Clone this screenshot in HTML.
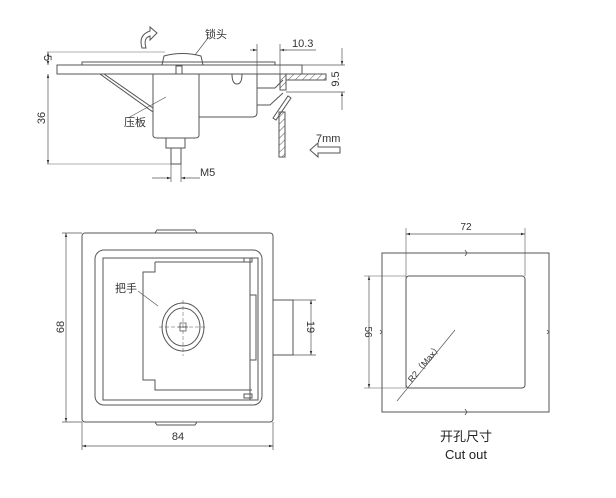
<!DOCTYPE html>
<html><head><meta charset="utf-8"><style>
html,body{margin:0;padding:0;background:#fff;}
svg{display:block}
text{font-family:"Liberation Sans","Noto Sans CJK SC",sans-serif;fill:#333}
</style></head><body>
<svg width="616" height="498" viewBox="0 0 616 498" xmlns="http://www.w3.org/2000/svg">
<defs>
<pattern id="h" width="5" height="5" patternUnits="userSpaceOnUse" patternTransform="rotate(45)"><line x1="0" y1="0" x2="0" y2="5" stroke="#555" stroke-width="1"/></pattern>
<marker id="a" viewBox="0 0 10 10" refX="10" refY="5" markerWidth="6" markerHeight="6" orient="auto-start-reverse"><path d="M0,2 L10,5 L0,8z" fill="#333"/></marker>
</defs>
<g fill="none" stroke="#555" stroke-width="1">
<line x1="47" y1="52" x2="165" y2="52" stroke="#999" stroke-width="0.7"/>
<line x1="47" y1="164" x2="172" y2="164" stroke="#999" stroke-width="0.7"/>
<line x1="48" y1="52" x2="48" y2="65" marker-start="url(#a)" marker-end="url(#a)" stroke-width="0.7"/>
<line x1="48" y1="74" x2="48" y2="164" marker-start="url(#a)" marker-end="url(#a)" stroke-width="0.7"/>
<rect x="82" y="62" width="193" height="3"/>
<rect x="57" y="65" width="245" height="9"/>
<path d="M162,65 L164,56 Q182,51 201,56 L203,65"/>
<rect x="176" y="66" width="6" height="8"/>
<path d="M153,74 V135 Q153,138 157,138 H195 Q199,138 199,135 V74"/>
<path d="M199,74 H257 V113 Q257,117 252,117 H199"/>
<path d="M232,74 Q232,84 237,84 Q242,84 242,74"/>
<path d="M100,74 L104,74 L153,108 L153,112z"/>
<rect x="166" y="138" width="19" height="10"/>
<rect x="171" y="148" width="10" height="16"/>
<path d="M257,88 H275 L283,80 M257,105 H270 L283,93"/>
<rect x="280" y="74" width="6" height="16" fill="url(#h)"/>
<rect x="286" y="74" width="40" height="6" fill="url(#h)"/>
<rect x="279" y="112" width="6" height="45" fill="url(#h)"/>
<path d="M273,118 L288,96 L291,98 L276,120z"/>
<line x1="257" y1="44" x2="257" y2="74" stroke-width="0.7"/>
<line x1="280" y1="44" x2="280" y2="74" stroke-width="0.7"/>
<line x1="250" y1="50" x2="257" y2="50" marker-end="url(#a)" stroke-width="0.7"/>
<line x1="287" y1="50" x2="280" y2="50" marker-end="url(#a)" stroke-width="0.7"/>
<line x1="280" y1="50" x2="316" y2="50" stroke-width="0.7"/>
<line x1="302" y1="65" x2="345" y2="65" stroke-width="0.7"/>
<line x1="286" y1="92" x2="345" y2="92" stroke-width="0.7"/>
<line x1="342" y1="48" x2="342" y2="65" marker-end="url(#a)" stroke-width="0.7"/>
<line x1="342" y1="110" x2="342" y2="92" marker-end="url(#a)" stroke-width="0.7"/>
<path d="M310,150 L318,143 V147 H340 V153 H318 V157z"/>
<line x1="152" y1="178" x2="171" y2="178" marker-end="url(#a)" stroke-width="0.7"/>
<line x1="200" y1="178" x2="181" y2="178" marker-end="url(#a)" stroke-width="0.7"/>
<line x1="171" y1="164" x2="171" y2="182" stroke-width="0.7"/>
<line x1="181" y1="164" x2="181" y2="182" stroke-width="0.7"/>
<path d="M142,48 Q138,35 150,31 L150,27 L157,33 L150,40 L150,36 Q143,38 146,48z"/>
<line x1="195" y1="55" x2="208" y2="38" stroke-width="0.7"/>
<line x1="128" y1="118" x2="166" y2="97" stroke-width="0.7"/>
<rect x="82" y="233" width="191" height="189" rx="3"/>
<path d="M155,233 L157,230 H195 L197,233 M155,422 L157,425 H195 L197,422"/>
<rect x="95" y="250" width="167" height="155" rx="9"/>
<rect x="103" y="258" width="155" height="142"/>
<path d="M155,262 V272 H143 V380 H155 V390 H252 M155,262 H250"/>
<line x1="250" y1="258" x2="250" y2="400"/>
<rect x="244" y="258" width="8" height="4"/>
<rect x="244" y="394" width="8" height="4"/>
<rect x="250" y="295" width="6" height="65"/>
<ellipse cx="183" cy="327" rx="21" ry="24"/>
<ellipse cx="183" cy="327" rx="17" ry="19"/>
<path d="M178,327 h10 M180,323 h6 v8 h-6z" stroke-width="0.8"/>
<line x1="159" y1="327" x2="207" y2="327" stroke-width="0.5" stroke-dasharray="4,2"/>
<line x1="183" y1="300" x2="183" y2="356" stroke-width="0.5" stroke-dasharray="4,2"/>
<rect x="273" y="300" width="20" height="55"/>
<line x1="293" y1="300" x2="316" y2="300" stroke-width="0.7"/>
<line x1="293" y1="355" x2="316" y2="355" stroke-width="0.7"/>
<line x1="311" y1="300" x2="311" y2="355" marker-start="url(#a)" marker-end="url(#a)" stroke-width="0.7"/>
<line x1="62" y1="233" x2="82" y2="233" stroke-width="0.7"/>
<line x1="62" y1="422" x2="82" y2="422" stroke-width="0.7"/>
<line x1="66" y1="233" x2="66" y2="422" marker-start="url(#a)" marker-end="url(#a)" stroke-width="0.7"/>
<line x1="82" y1="422" x2="82" y2="450" stroke-width="0.7"/>
<line x1="273" y1="422" x2="273" y2="450" stroke-width="0.7"/>
<line x1="82" y1="446" x2="273" y2="446" marker-start="url(#a)" marker-end="url(#a)" stroke-width="0.7"/>
<line x1="138" y1="291" x2="158" y2="306" stroke-width="0.7"/>
<rect x="382" y="253" width="167" height="159"/>
<rect x="406" y="276" width="119" height="112" rx="3"/>
<line x1="406" y1="228" x2="406" y2="388" stroke-width="0.6"/>
<line x1="525" y1="228" x2="525" y2="276" stroke-width="0.6"/>
<line x1="406" y1="234" x2="525" y2="234" marker-start="url(#a)" marker-end="url(#a)" stroke-width="0.7"/>
<line x1="364" y1="276" x2="406" y2="276" stroke-width="0.6"/>
<line x1="364" y1="388" x2="406" y2="388" stroke-width="0.6"/>
<line x1="369" y1="276" x2="369" y2="388" marker-start="url(#a)" marker-end="url(#a)" stroke-width="0.7"/>
<line x1="397" y1="401" x2="455" y2="330" stroke-width="0.7"/>
<path d="M465,250 l2,3 -2,3 M465,409 l2,3 -2,3 M380,330 l2,2 -2,2 M547,330 l2,2 -2,2" stroke-width="0.8"/>
</g>
<text x="205" y="38" font-size="11">锁头</text>
<text x="124" y="126" font-size="11">压板</text>
<text x="292" y="47" font-size="11">10.3</text>
<text x="342" y="79" font-size="11" transform="rotate(-90 342 79)" text-anchor="middle" dy="-3">9.5</text>
<text x="316" y="142" font-size="11">7mm</text>
<text x="200" y="176" font-size="11">M5</text>
<text x="44" y="58" font-size="11" transform="rotate(90 44 58)" text-anchor="middle">5</text>
<text x="45" y="118" font-size="11" transform="rotate(-90 45 118)" text-anchor="middle">36</text>
<text x="64" y="327" font-size="11" transform="rotate(-90 64 327)" text-anchor="middle">68</text>
<text x="307" y="327" font-size="11" transform="rotate(90 307 327)" text-anchor="middle">19</text>
<text x="115" y="292" font-size="11">把手</text>
<text x="178" y="440" font-size="11" text-anchor="middle">84</text>
<text x="466" y="230" font-size="10" text-anchor="middle">72</text>
<text x="365" y="332" font-size="10" transform="rotate(90 365 332)" text-anchor="middle">56</text>
<text x="412" y="383" font-size="9" transform="rotate(-50 412 383)">R2（Max）</text>
<text x="466" y="441" font-size="13" text-anchor="middle" style="fill:#222">开孔尺寸</text>
<text x="466" y="459" font-size="13" text-anchor="middle" style="fill:#222">Cut out</text>
</svg>
</body></html>
